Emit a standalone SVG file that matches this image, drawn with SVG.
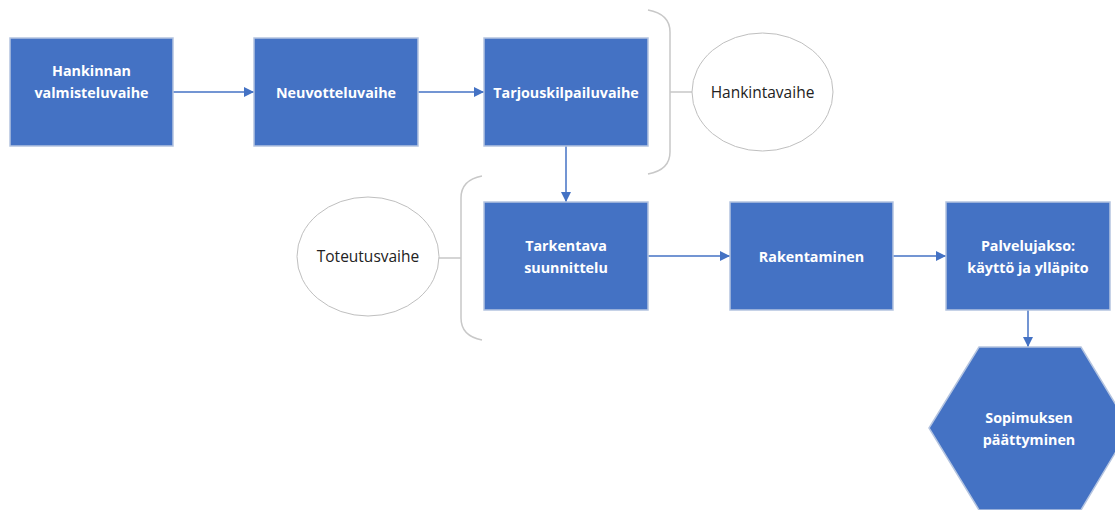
<svg xmlns="http://www.w3.org/2000/svg" width="1115" height="510" viewBox="0 0 1115 510">
  <defs>
    <marker id="arrow" viewBox="0 0 10 10" refX="10" refY="5" markerWidth="10" markerHeight="10" markerUnits="userSpaceOnUse" orient="auto">
      <path d="M0,0 L10,5 L0,10 z" fill="#4472C4"/>
    </marker>
    <style>
      .box { fill: #4472C4; stroke: #B4C4E0; stroke-width: 1.5; }
      .lbl { font-family: "Open Sans", "Noto Sans", sans-serif; font-weight: bold; font-size: 14.3px; fill: #FFFFFF; text-anchor: middle; }
      .oval { fill: #FFFFFF; stroke: #BFBFBF; stroke-width: 1; }
      .olbl { font-family: "Open Sans", "Noto Sans", sans-serif; font-size: 15.5px; fill: #222222; text-anchor: middle; }
      .brace { fill: none; stroke: #C8C8C8; stroke-width: 1.5; }
      .conn { fill: none; stroke: #4472C4; stroke-width: 1.5; marker-end: url(#arrow); }
    </style>
  </defs>
  <rect width="1115" height="510" fill="#FFFFFF"/>

  <!-- braces with their phase labels -->
  <g id="hankintavaihe">
    <path class="brace" d="M648,10 Q670,14 670,32 L670,152 Q670,170 648,174 M670,92 L692,92"/>
    <ellipse class="oval" cx="762.5" cy="92" rx="70.5" ry="59"/>
    <text class="olbl" x="762.5" y="97.5">Hankintavaihe</text>
  </g>
  <g id="toteutusvaihe">
    <path class="brace" d="M482,176 Q461,180 461,198 L461,318 Q461,336 482,340 M461,258 L439,258"/>
    <ellipse class="oval" cx="368" cy="256.5" rx="71" ry="59.5"/>
    <text class="olbl" x="368" y="262">Toteutusvaihe</text>
  </g>

  <!-- connectors -->
  <g id="connectors">
    <path class="conn" d="M173,92 L254,92"/>
    <path class="conn" d="M418,92 L484,92"/>
    <path class="conn" d="M566,146 L566,202"/>
    <path class="conn" d="M648,256 L730,256"/>
    <path class="conn" d="M893,256 L946,256"/>
    <path class="conn" d="M1028,310 L1028,347"/>
  </g>

  <!-- process steps -->
  <g id="valmistelu">
    <rect class="box" x="10" y="38" width="163" height="108"/>
    <text class="lbl" x="91.5" y="76">Hankinnan</text>
    <text class="lbl" x="91.5" y="98">valmisteluvaihe</text>
  </g>
  <g id="neuvottelu">
    <rect class="box" x="254" y="38" width="164" height="108"/>
    <text class="lbl" x="336" y="98">Neuvotteluvaihe</text>
  </g>
  <g id="tarjouskilpailu">
    <rect class="box" x="484" y="38" width="164" height="108"/>
    <text class="lbl" x="566" y="98">Tarjouskilpailuvaihe</text>
  </g>
  <g id="tarkentava">
    <rect class="box" x="484" y="202" width="164" height="108"/>
    <text class="lbl" x="566" y="251">Tarkentava</text>
    <text class="lbl" x="566" y="273">suunnittelu</text>
  </g>
  <g id="rakentaminen">
    <rect class="box" x="730" y="202" width="163" height="108"/>
    <text class="lbl" x="811.5" y="262">Rakentaminen</text>
  </g>
  <g id="palvelujakso">
    <rect class="box" x="946" y="202" width="164" height="108"/>
    <text class="lbl" x="1028" y="251">Palvelujakso:</text>
    <text class="lbl" x="1028" y="273">käyttö ja ylläpito</text>
  </g>
  <g id="paattyminen">
    <polygon class="box" points="979,347 1081,347 1130,428 1081,510 979,510 929,428"/>
    <text class="lbl" x="1029" y="423">Sopimuksen</text>
    <text class="lbl" x="1029" y="445">päättyminen</text>
  </g>
</svg>
